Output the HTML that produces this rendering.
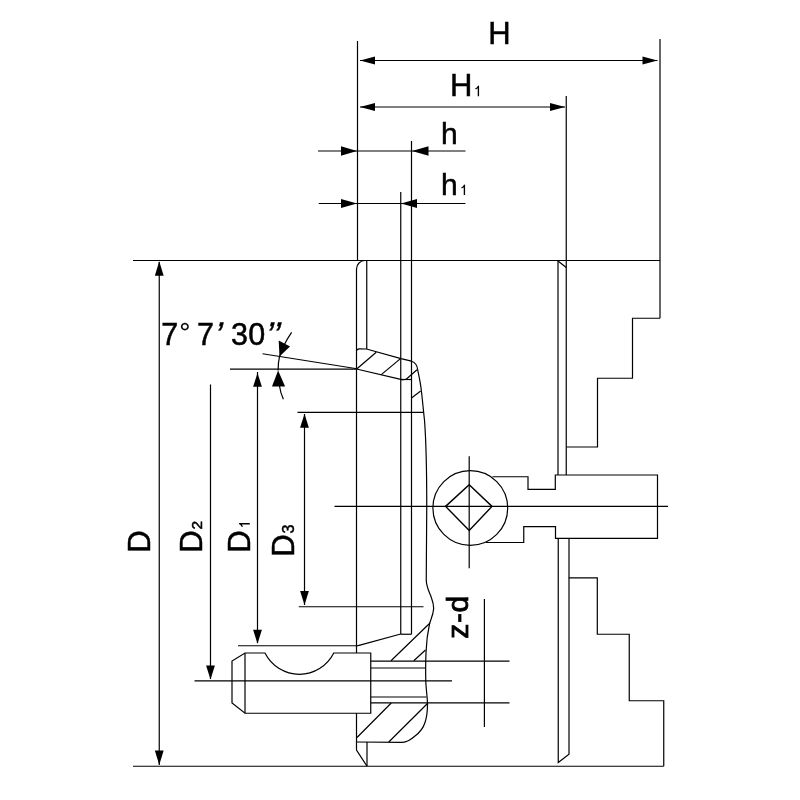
<!DOCTYPE html>
<html><head><meta charset="utf-8">
<style>
html,body{margin:0;padding:0;background:#fff;}
svg{display:block;filter:grayscale(1);}
text{font-family:"Liberation Sans",sans-serif;fill:#000;stroke:#000;stroke-width:0.5px;}
.l{stroke:#000;stroke-width:1.2;fill:none;stroke-linecap:butt;stroke-linejoin:miter;}
.a{fill:#000;stroke:none;}
</style></head>
<body>
<svg width="800" height="800" viewBox="0 0 800 800">
<rect width="800" height="800" fill="#fff"/>
<!-- extension / dimension lines top -->
<g class="l">
<path d="M357.5,41V260.5"/>
<path d="M660,39V318.25"/>
<path d="M566.25,96V475"/>
<path d="M411.5,141V634.25"/>
<path d="M400.75,192V634.25"/>
<path d="M360,60.5H657.5"/>
<path d="M360,107H565"/>
<path d="M318,151H465.5"/>
<path d="M318.75,203.5H465.5"/>
<!-- top & bottom horizontals -->
<path d="M133,260.5H660"/>
<path d="M133,766.25H663.75"/>
<!-- D dims -->
<path d="M159.25,262V765"/>
<path d="M210.5,384.5V679"/>
<path d="M257.5,372V643"/>
<path d="M304.5,414V605"/>
<path d="M230,369.1H357"/>
<path d="M238,645.75H356.25"/>
<path d="M297.5,412.4H423.75"/>
<path d="M298.75,606.75H423.5"/>
<path d="M194.5,680.9H452"/>
<!-- angle -->
<path d="M262.5,353.75L357,368.75"/>
<path d="M291.6,332.4Q283,345 279.5,356.6Q278,363 278.1,370.6"/>
<path d="M279.5,386Q280.5,393 283.4,399.3"/>
</g>
<!-- arrows -->
<g class="a">
<path d="M360,60.5l15,-4v8z"/>
<path d="M657.5,60.5l-15,-4v8z"/>
<path d="M360,107l15,-4v8z"/>
<path d="M565,107l-15,-4v8z"/>
<path d="M357,151l-16,-4.8v9.6z"/>
<path d="M412,151l16.5,-4.8v9.6z"/>
<path d="M357,203.5l-16,-4.6v9.2z"/>
<path d="M401,203.5l16,-4.6v9.2z"/>
<path d="M159.25,261.25l-4.4,14.5h8.8z"/>
<path d="M159.25,765l-4.4,-14.5h8.8z"/>
<path d="M210.5,679.5l-4.4,-14h8.8z"/>
<path d="M257.5,373l-4.4,13.8h8.8z"/>
<path d="M257.5,643.75l-4.4,-14h8.8z"/>
<path d="M304.5,413.75l-4.4,14h8.8z"/>
<path d="M304.5,605l-4.4,-14h8.8z"/>
<path d="M279.5,356.6L278.7,340.5L290,346.4z"/>
<path d="M278.1,370.6L272,386.4H285.1z"/>
</g>
<!-- body -->
<g class="l">
<path d="M365,260.5A8.5,8.5 0 0 0 356.5,269V653"/>
<path d="M356.5,713V750L367,766.25"/>
<path d="M366.75,260.5V348.9"/>
<!-- hatch region top -->
<path d="M356.5,351Q356.6,348.8 359.5,348.8L366.5,349L401,358.6L411.5,361.2Q417,363 417.6,369.4C419,376 421,386 421.5,392C422.5,400 423.5,412 424.5,420C426,440 426.75,470 426.75,506C426.75,540 426.5,565 426.25,580C426.5,588 429.5,592 431.5,598C433.3,603 433.8,606 433.6,609C433.2,615 430.8,619 429.5,624C427.5,633 426.3,645 426,652.5C425.6,662 425.6,672 425.75,680C426,690 427.6,698 427.5,705C427.4,712 426.5,718 425,722.5C423,729 419,733 415,736C411,739.5 407,742.3 402.5,742.4L356.5,742"/>
<path d="M356.5,369L400.75,379.4Q404,380.2 406.5,379L417,369.8"/>
<path d="M400.75,379.5H411.5"/>
<!-- hatch lines top -->
<path d="M357,368.75L376.25,352.2"/>
<path d="M381.25,374.6L400.5,358.6"/>
<path d="M411.5,398L420.7,391"/>
<!-- bottom of inner lines -->
<path d="M400.75,634.25H411.5"/>
<path d="M356.5,646Q357.5,645.9 360,645.2L400.75,634"/>
<!-- hatch bottom -->
<path d="M391,660.75L430,623"/>
<path d="M413.75,660.75L425.5,650"/>
<path d="M391.25,703L357,737.5"/>
<path d="M427.5,703.5L388.75,742"/>
<path d="M367,742V766"/>
<!-- stud -->
<path d="M245,653H265A38.4,38.4 0 0 0 333.75,653H370.75V713.25H245L232,703V661Z"/>
<path d="M245,653V713.25"/>
<!-- thread -->
<path d="M370.75,661.2H509.5"/>
<path d="M370.75,668H425.75"/>
<path d="M370.75,697H426.5"/>
<path d="M370.75,702.8H509.5"/>
<path d="M484.4,599V727"/>
<!-- center line -->
<path d="M334.5,506.4H668"/>
<path d="M469.2,456.25V568.25"/>
<circle cx="470.3" cy="508" r="37.4"/>
<path d="M469.2,484.7L492,506.4L469.2,530.5L445.6,506.4Z" style="stroke-width:1.4"/>
<!-- key stem -->
<path d="M492.5,476.75H528V489.4H555.3V475H657.5V538.4H555.5V526.6H523.75V542.5H486"/>
<!-- right body -->
<path d="M558,260.5V475"/>
<path d="M558,261L566.25,267.5"/>
<path d="M660,318.25H632.5V378.25H597.5V447H566.5"/>
<path d="M558.25,538.4V762.5L569,754.25V538.4"/>
<path d="M568.75,577.8H597.3V634.25H629.25V700.75H663.75V766.25"/>
</g>
<!-- text -->
<g>
<text x="488.3" y="44" font-size="31">H</text>
<text x="449.9" y="96.2" font-size="31">H</text>
<text x="440.9" y="144" font-size="30">h</text>
<text x="440.9" y="195" font-size="30">h</text>
<text x="161.3" y="344.6" font-size="30.5">7</text>
<text x="179.2" y="342" font-size="28" style="stroke-width:0.2px">°</text>
<text x="197.1" y="344.6" font-size="30.5">7</text>
<text transform="translate(213,345.6) skewX(-12)" font-size="34">’</text>
<text x="230.9" y="344.6" font-size="30.5">3</text>
<text x="248.3" y="344.6" font-size="30.5">0</text>
<text transform="translate(264.1,345.6) skewX(-12)" font-size="34">’</text>
<text transform="translate(271.1,345.6) skewX(-12)" font-size="34">’</text>
<text transform="translate(149.6,552.7) rotate(-90)" font-size="31">D</text>
<text transform="translate(201.6,552.7) rotate(-90)" font-size="31">D</text>
<text transform="translate(201.6,529.5) rotate(-90)" font-size="15.5">2</text>
<text transform="translate(249.8,552.7) rotate(-90)" font-size="31">D</text>
<text transform="translate(294.3,556.7) rotate(-90)" font-size="31">D</text>
<text transform="translate(294.3,533.4) rotate(-90)" font-size="16">3</text>
<text transform="translate(468,638.8) rotate(-90)" font-size="30" style="letter-spacing:0.7px;stroke-width:0.8px">z-d</text>
</g>
<!-- subscript 1 glyphs (Arial-like, no foot) -->
<g fill="none" stroke="#000" stroke-width="1.35" stroke-linejoin="round">
<path d="M478.4,96.2V86.2Q477.6,88 475.4,89"/>
<path d="M464.4,195V185.2Q463.6,187 461.5,188"/>
<path d="M249.8,523.7H239.6Q241.4,524.6 242.4,526.7"/>
</g>
</svg>
</body></html>
